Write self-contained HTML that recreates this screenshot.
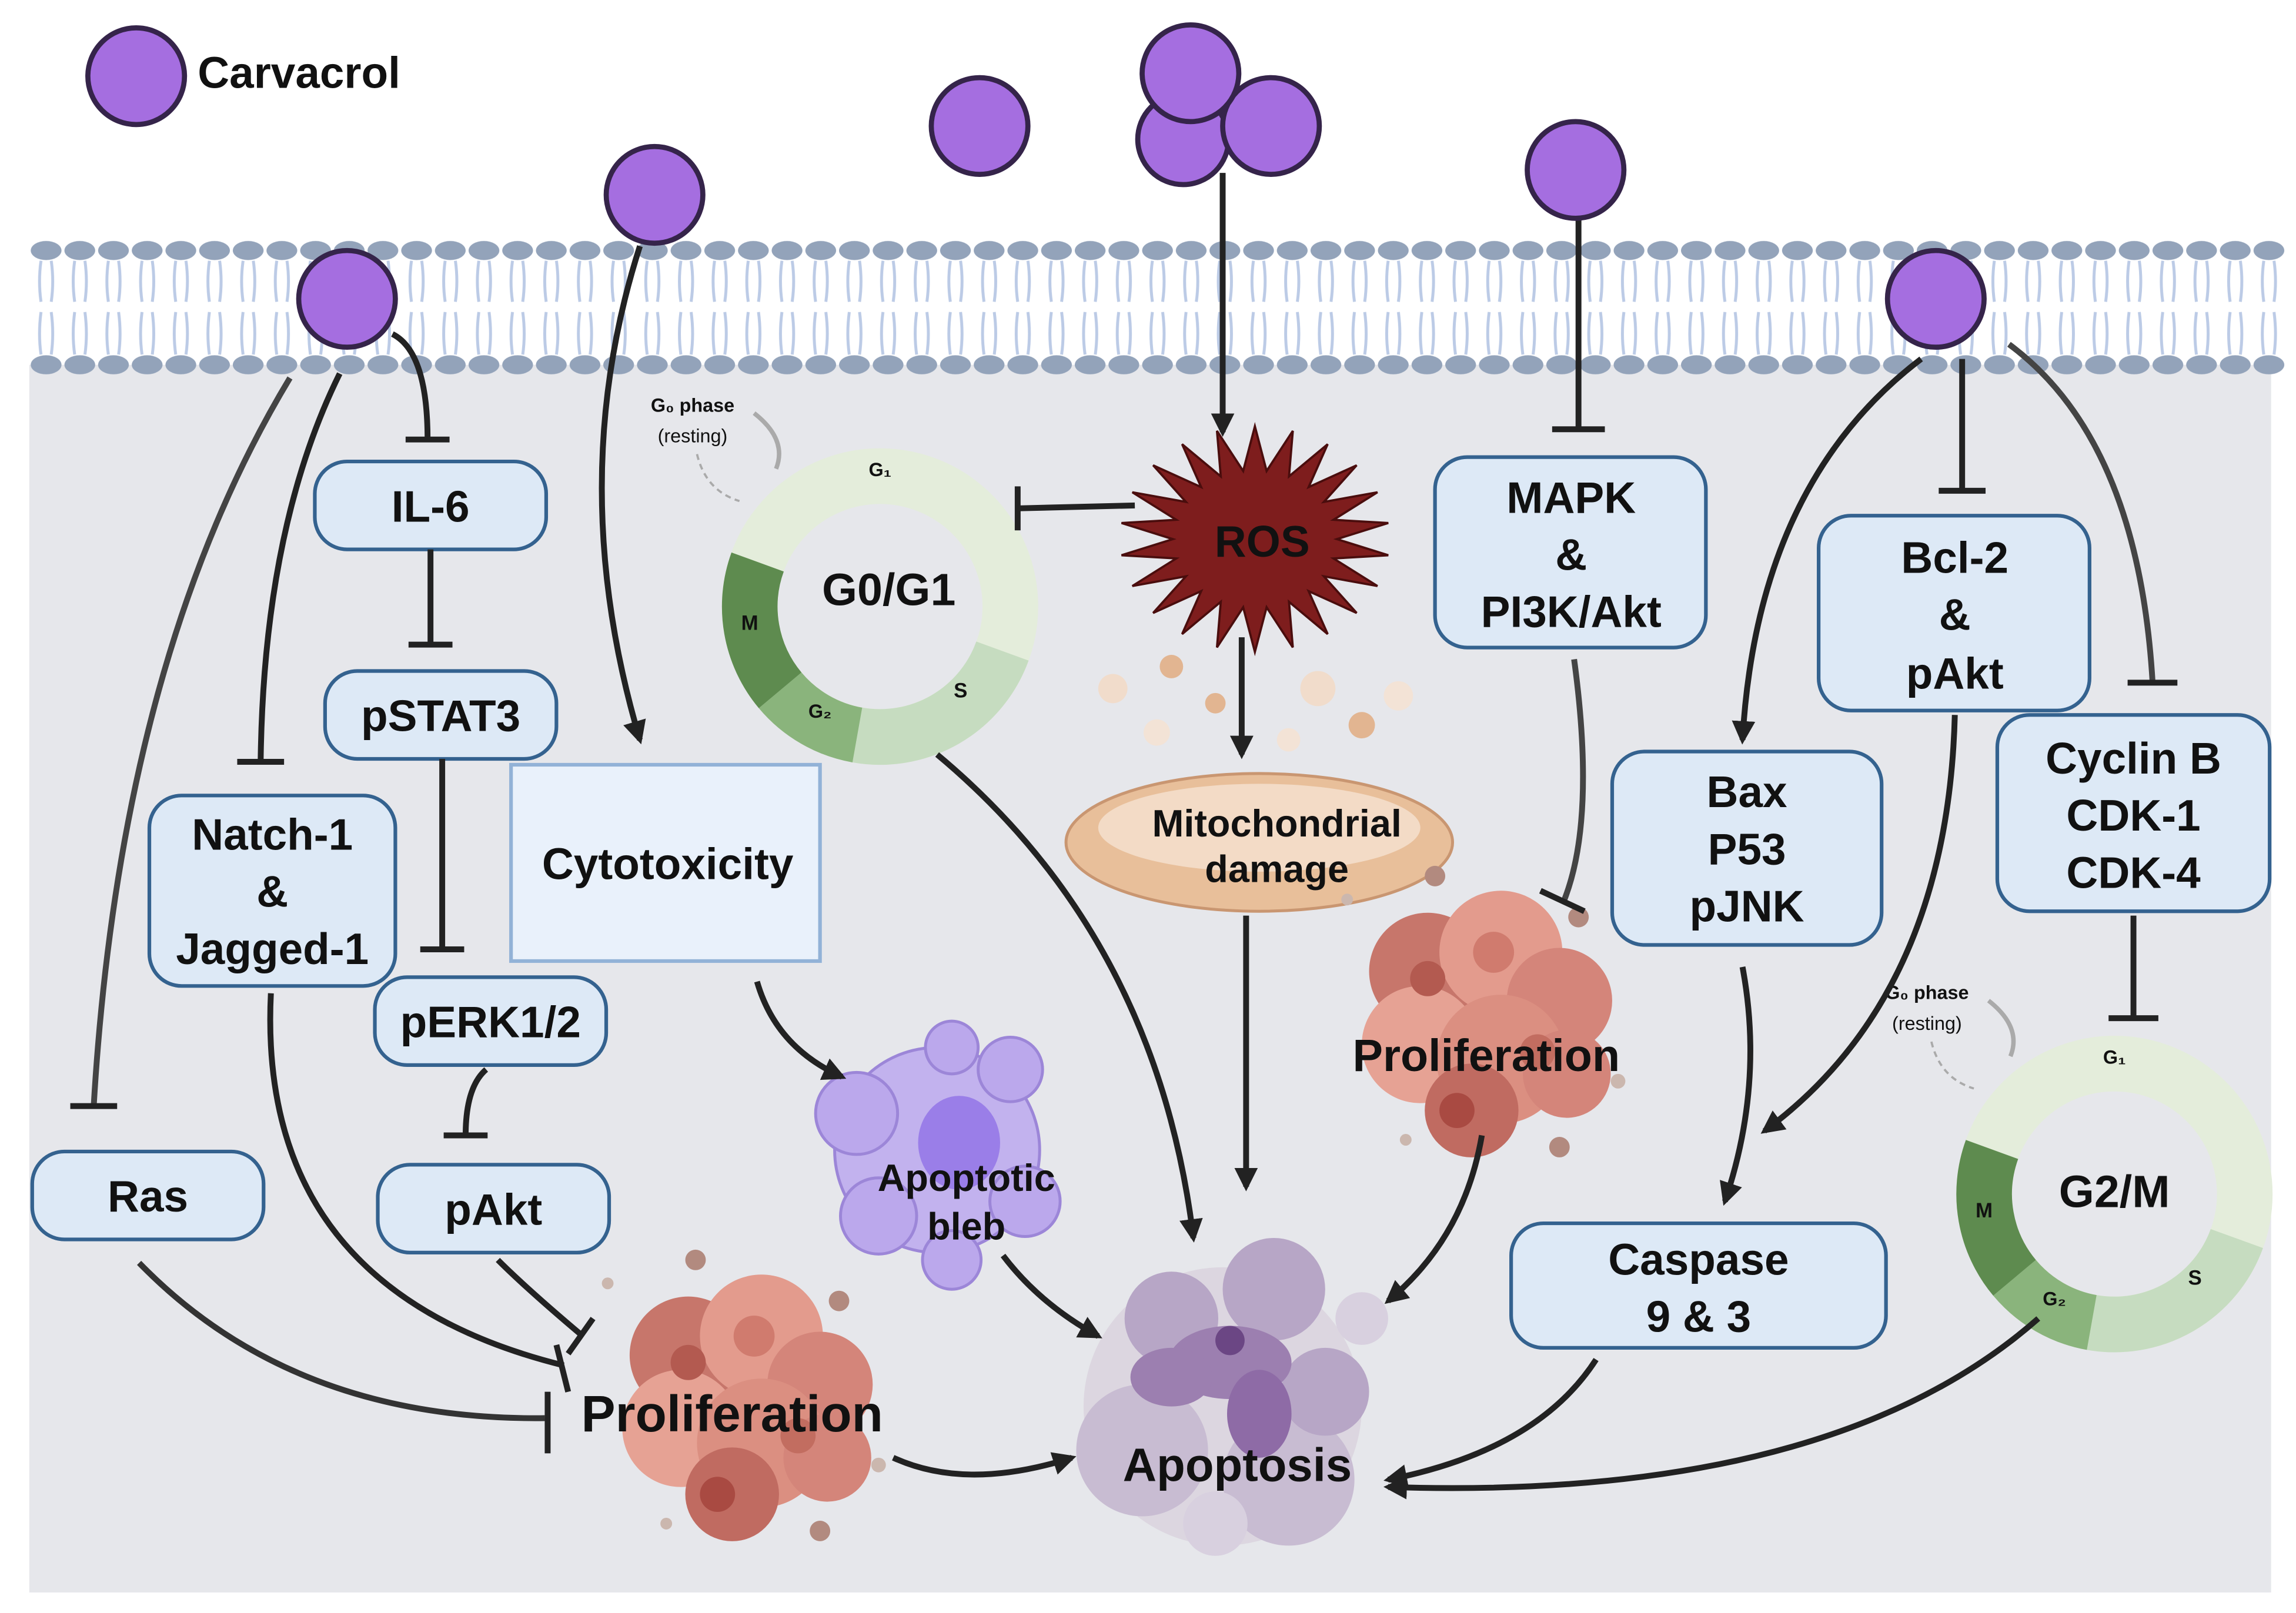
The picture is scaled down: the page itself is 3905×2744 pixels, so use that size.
<!DOCTYPE html>
<html><head><meta charset="utf-8"><style>
html,body{margin:0;padding:0;background:#fff}
svg{display:block}
text{font-family:"Liberation Sans",sans-serif;font-weight:bold;fill:#111}
</style></head><body>
<svg width="3905" height="2744" viewBox="0 0 1568 1101" preserveAspectRatio="none" xmlns="http://www.w3.org/2000/svg">
<defs>
<pattern id="mem" x="20" y="0" width="23" height="300" patternUnits="userSpaceOnUse">
<path d="M8,178 Q6,192 8,206 M15,178 Q17,192 15,206 M8,213 Q6,228 8,242 M15,213 Q17,228 15,242" stroke="#bccbe6" stroke-width="2" fill="none"/>
<ellipse cx="11.5" cy="171" rx="10.5" ry="6.5" fill="#93a3ba"/>
<ellipse cx="11.5" cy="249" rx="10.5" ry="6.5" fill="#93a3ba"/>
</pattern>
<marker id="ar" viewBox="0 0 10 10" refX="8" refY="5" markerWidth="4" markerHeight="4" orient="auto" markerUnits="strokeWidth"><path d="M0,0 L10,5 L0,10 z" fill="#222"/></marker>
</defs>
<rect x="20" y="249" width="1531" height="838" fill="#e6e7eb"/>
<rect x="20" y="160" width="1541" height="100" fill="url(#mem)"/>

<!-- cell cycle rings -->
<g id="ring">
<circle cx="601" cy="414" r="89" fill="none" stroke="#e4eddb" stroke-width="38"/>
<path d="M684.6,444.4 A89,89 0 0 1 585.5,501.7" fill="none" stroke="#c6dcc0" stroke-width="38"/>
<path d="M585.5,501.7 A89,89 0 0 1 532.8,471.2" fill="none" stroke="#8ab47c" stroke-width="38"/>
<path d="M532.8,471.2 A89,89 0 0 1 517.4,383.6" fill="none" stroke="#5e8b4f" stroke-width="38"/>
<text x="601" y="325" font-size="13" text-anchor="middle">G₁</text>
<text x="512" y="430" font-size="14" text-anchor="middle">M</text>
<text x="560" y="490" font-size="13" text-anchor="middle">G₂</text>
<text x="656" y="476" font-size="14" text-anchor="middle">S</text>
<text x="473" y="281" font-size="13" text-anchor="middle">G₀ phase</text>
<text x="473" y="302" font-size="13" text-anchor="middle" style="font-weight:normal" fill="#333">(resting)</text>
<path d="M515,282 Q538,300 530,320" fill="none" stroke="#aaa" stroke-width="3"/>
<path d="M476,310 Q482,335 505,342" fill="none" stroke="#aaa" stroke-width="1.5" stroke-dasharray="4,3"/>
</g>
<text x="607" y="413" font-size="31" text-anchor="middle">G0/G1</text>
<use href="#ring" transform="translate(843,401)"/>
<text x="1444" y="824" font-size="31" text-anchor="middle">G2/M</text>

<!-- ROS star -->
<polygon id="star" fill="#7e1d1d" stroke="#4a0d0d" stroke-width="1.5"/>
<text x="862" y="380" font-size="30" text-anchor="middle">ROS</text>

<!-- mitochondria -->
<g>
<circle cx="760" cy="470" r="10" fill="#f1dccb"/><circle cx="800" cy="455" r="8" fill="#e2b591"/>
<circle cx="900" cy="470" r="12" fill="#f1dccb"/><circle cx="930" cy="495" r="9" fill="#e2b591"/>
<circle cx="790" cy="500" r="9" fill="#f3e3d6"/><circle cx="830" cy="480" r="7" fill="#e2b591"/>
<circle cx="880" cy="505" r="8" fill="#f3e3d6"/><circle cx="955" cy="475" r="10" fill="#f3e3d6"/>
<ellipse cx="860" cy="575" rx="132" ry="47" fill="#e8bf9a" stroke="#c99671" stroke-width="2"/>
<ellipse cx="860" cy="565" rx="110" ry="30" fill="#f3dbc6"/>
</g>
<text x="872" y="571" font-size="26" text-anchor="middle">Mitochondrial</text>
<text x="872" y="602" font-size="26" text-anchor="middle">damage</text>

<!-- proliferation clusters -->
<g id="prolif">
<circle cx="470" cy="925" r="40" fill="#c7766b"/><circle cx="520" cy="912" r="42" fill="#e39b8d"/>
<circle cx="560" cy="945" r="36" fill="#d4857a"/><circle cx="465" cy="975" r="40" fill="#e6a294"/>
<circle cx="520" cy="985" r="44" fill="#db8f81"/><circle cx="500" cy="1020" r="32" fill="#c06b61"/>
<circle cx="565" cy="995" r="30" fill="#d4857a"/>
<circle cx="515" cy="912" r="14" fill="#d07b6e"/><circle cx="470" cy="930" r="12" fill="#b35a50"/>
<circle cx="490" cy="1020" r="12" fill="#a94a42"/><circle cx="545" cy="980" r="12" fill="#c26d60"/>
<circle cx="475" cy="860" r="7" fill="#b28a7f"/><circle cx="573" cy="888" r="7" fill="#b28a7f"/>
<circle cx="560" cy="1045" r="7" fill="#b28a7f"/><circle cx="415" cy="876" r="4" fill="#cbb7ae"/>
<circle cx="600" cy="1000" r="5" fill="#cbb7ae"/><circle cx="455" cy="1040" r="4" fill="#cbb7ae"/>
</g>
<use href="#prolif" transform="translate(505,-262)"/>
<text x="500" y="977" font-size="35" text-anchor="middle">Proliferation</text>
<text x="1015" y="731" font-size="31" text-anchor="middle">Proliferation</text>

<!-- apoptotic bleb -->
<g>
<circle cx="640" cy="785" r="70" fill="#c2b2ee" stroke="#9c86d8" stroke-width="2"/>
<circle cx="585" cy="760" r="28" fill="#bba8ec" stroke="#9c86d8" stroke-width="2"/>
<circle cx="600" cy="830" r="26" fill="#bba8ec" stroke="#9c86d8" stroke-width="2"/>
<circle cx="690" cy="730" r="22" fill="#bba8ec" stroke="#9c86d8" stroke-width="2"/>
<circle cx="700" cy="820" r="24" fill="#bba8ec" stroke="#9c86d8" stroke-width="2"/>
<circle cx="650" cy="860" r="20" fill="#bba8ec" stroke="#9c86d8" stroke-width="2"/>
<circle cx="650" cy="715" r="18" fill="#bba8ec" stroke="#9c86d8" stroke-width="2"/>
<ellipse cx="655" cy="780" rx="28" ry="32" fill="#9a7ee8"/>
</g>
<text x="660" y="813" font-size="26" text-anchor="middle">Apoptotic</text>
<text x="660" y="846" font-size="26" text-anchor="middle">bleb</text>

<!-- apoptosis -->
<g>
<circle cx="835" cy="960" r="95" fill="#dcd6e0"/>
<circle cx="780" cy="990" r="45" fill="#c8bcd2"/><circle cx="880" cy="1010" r="45" fill="#c8bcd2"/>
<circle cx="870" cy="880" r="35" fill="#b7a6c6"/><circle cx="800" cy="900" r="32" fill="#b7a6c6"/>
<circle cx="905" cy="950" r="30" fill="#b7a6c6"/>
<ellipse cx="840" cy="930" rx="42" ry="25" fill="#9c7fb0"/><ellipse cx="800" cy="940" rx="28" ry="20" fill="#9c7fb0"/>
<ellipse cx="860" cy="965" rx="22" ry="30" fill="#8e6ba6"/><circle cx="840" cy="915" r="10" fill="#6b4684"/>
<circle cx="830" cy="1040" r="22" fill="#d8d0df"/><circle cx="930" cy="900" r="18" fill="#d8d0df"/>
</g>
<text x="845" y="1011" font-size="32" text-anchor="middle">Apoptosis</text>

<!-- nodes -->
<g fill="#dde9f6" stroke="#34628f" stroke-width="2.5">
<rect x="215" y="315" width="158" height="60" rx="22"/>
<rect x="222" y="458" width="158" height="60" rx="22"/>
<rect x="102" y="543" width="168" height="130" rx="22"/>
<rect x="256" y="667" width="158" height="60" rx="22"/>
<rect x="258" y="795" width="158" height="60" rx="22"/>
<rect x="22" y="786" width="158" height="60" rx="22"/>
<rect x="980" y="312" width="185" height="130" rx="22"/>
<rect x="1242" y="352" width="185" height="133" rx="22"/>
<rect x="1101" y="513" width="184" height="132" rx="22"/>
<rect x="1364" y="488" width="186" height="134" rx="22"/>
<rect x="1032" y="835" width="256" height="85" rx="22"/>
</g>
<rect x="349" y="522" width="211" height="134" fill="#e9f1fb" stroke="#92b2d7" stroke-width="2.5"/>
<g font-size="30" text-anchor="middle">
<text x="294" y="356">IL-6</text>
<text x="301" y="499">pSTAT3</text>
<text x="186" y="580">Natch-1</text><text x="186" y="619">&amp;</text><text x="186" y="658">Jagged-1</text>
<text x="335" y="708">pERK1/2</text>
<text x="337" y="836">pAkt</text>
<text x="101" y="827">Ras</text>
<text x="456" y="600">Cytotoxicity</text>
<text x="1073" y="350">MAPK</text><text x="1073" y="389">&amp;</text><text x="1073" y="428">PI3K/Akt</text>
<text x="1335" y="391">Bcl-2</text><text x="1335" y="430">&amp;</text><text x="1335" y="470">pAkt</text>
<text x="1193" y="551">Bax</text><text x="1193" y="590">P53</text><text x="1193" y="629">pJNK</text>
<text x="1457" y="528">Cyclin B</text><text x="1457" y="567">CDK-1</text><text x="1457" y="606">CDK-4</text>
<text x="1160" y="870">Caspase</text><text x="1160" y="909">9 &amp; 3</text>
</g>

<!-- connectors -->
<g fill="none" stroke="#222" stroke-width="4" stroke-linecap="butt">
<path d="M268,228 Q292,240 292,300"/><path d="M277,300 H307"/>
<path d="M294,375 V440"/><path d="M279,440 H309"/>
<path d="M302,518 V648"/><path d="M287,648 H317"/>
<path d="M332,730 Q318,742 318,775"/><path d="M303,775 H333"/>
<path d="M232,255 Q180,360 178,520"/><path d="M162,520 H194"/>
<path d="M198,258 Q82,450 64,755" stroke="#444"/><path d="M48,755 H80"/>
<path d="M95,862 Q200,970 372,968" stroke="#333"/><path d="M374,950 V992"/>
<path d="M185,678 Q175,880 385,932"/><path d="M380,918 L388,950"/>
<path d="M340,860 Q360,880 398,912"/><path d="M388,924 L405,900"/>
<path d="M437,168 Q385,330 437,505" marker-end="url(#ar)"/>
<path d="M517,670 Q530,715 575,735" marker-end="url(#ar)"/>
<path d="M640,515 Q790,640 815,845" marker-end="url(#ar)"/>
<path d="M851,625 V810" marker-end="url(#ar)"/>
<path d="M835,118 V295" marker-end="url(#ar)"/>
<path d="M775,345 L695,347"/><path d="M695,332 V362"/>
<path d="M848,435 V515" marker-end="url(#ar)"/>
<path d="M1078,150 V293"/><path d="M1060,293 H1096"/>
<path d="M1075,450 Q1090,560 1068,615" stroke="#444"/><path d="M1052,608 L1082,622"/>
<path d="M1012,775 Q1000,845 948,888" marker-end="url(#ar)"/>
<path d="M685,857 Q710,890 750,912" marker-end="url(#ar)"/>
<path d="M610,995 Q660,1018 732,995" marker-end="url(#ar)"/>
<path d="M1312,245 Q1200,330 1190,505" marker-end="url(#ar)"/>
<path d="M1340,245 V335"/><path d="M1324,335 H1356"/>
<path d="M1372,235 Q1460,300 1470,465" stroke="#444"/><path d="M1453,466 H1487"/>
<path d="M1335,488 Q1330,680 1205,772" marker-end="url(#ar)"/>
<path d="M1190,660 Q1205,740 1178,820" marker-end="url(#ar)"/>
<path d="M1457,625 V695"/><path d="M1440,695 H1474"/>
<path d="M1090,928 Q1050,990 948,1010" marker-end="url(#ar)"/>
<path d="M1392,900 Q1250,1025 948,1015" marker-end="url(#ar)"/>
</g>

<!-- carvacrol -->
<g fill="#a56ee0" stroke="#35244a" stroke-width="3.5">
<circle cx="93" cy="52" r="33"/>
<circle cx="447" cy="133" r="33"/>
<circle cx="237" cy="204" r="33"/>
<circle cx="669" cy="86" r="33"/>
<circle cx="808" cy="95" r="31"/>
<circle cx="868" cy="86" r="33"/>
<circle cx="813" cy="50" r="33"/>
<circle cx="1076" cy="116" r="33"/>
<circle cx="1322" cy="204" r="33"/>
</g>
<text x="135" y="60" font-size="30">Carvacrol</text>
</svg>
<script>
(function(){var p=[],cx=857,cy=368,n=22;for(var i=0;i<2*n;i++){var a=Math.PI*i/n-Math.PI/2,o=i%2==0;var rx=o?92:56,ry=o?77:47;p.push((cx+rx*Math.cos(a)).toFixed(1)+','+(cy+ry*Math.sin(a)).toFixed(1));}
document.getElementById('star').setAttribute('points',p.join(' '));})();
</script>
</body></html>
